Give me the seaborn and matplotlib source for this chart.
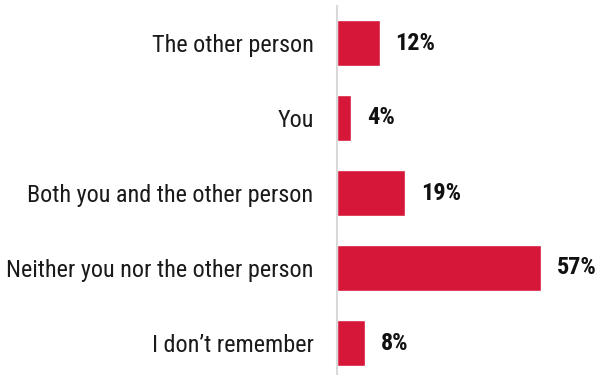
import matplotlib
matplotlib.use("Agg")
import matplotlib.pyplot as plt
import seaborn as sns
import pandas as pd

categories = ["The other person", "You", "Both you and the other person",
              "Neither you nor the other person", "I don\u2019t remember"]
values = [12, 4, 19, 57, 8]
labels = ["12%", "4%", "19%", "57%", "8%"]

sns.set_style("white")
plt.rcParams['font.family'] = ['Roboto Condensed', 'Roboto', 'DejaVu Sans']

df = pd.DataFrame({"cat": categories, "val": values})

fig = plt.figure(figsize=(5.99, 3.75), dpi=100)
W, H = 599, 375
top_px, bot_px = 5.5, 375
ax = fig.add_axes([336.5 / W, 1 - bot_px / H, 1 - 336.5 / W, (bot_px - top_px) / H])

sns.barplot(data=df, x="val", y="cat", orient="h", color="#D6173A",
            saturation=1, width=0.61, ax=ax)

ax.set_xlim(0, 262.5 / 3.59)
ax.set_ylim(4.5 - (380.5 - 375) / 75, -0.5)
ax.set_xlabel("")
ax.set_ylabel("")
ax.set_xticks([])
for s in ["top", "right", "bottom"]:
    ax.spines[s].set_visible(False)
ax.spines["left"].set_color("#D9D9D9")
ax.spines["left"].set_linewidth(1.5)
ax.tick_params(axis="y", length=0, pad=16.5, labelsize=17.4, labelcolor="#1a1a1a")

for i, (v, lab) in enumerate(zip(values, labels)):
    ax.annotate(lab, xy=(v, i), xytext=(16, 0), textcoords="offset pixels",
                va="center", ha="left", fontsize=17.5, fontweight="bold", color="#111111")

fig.savefig("out.png", dpi=100)
